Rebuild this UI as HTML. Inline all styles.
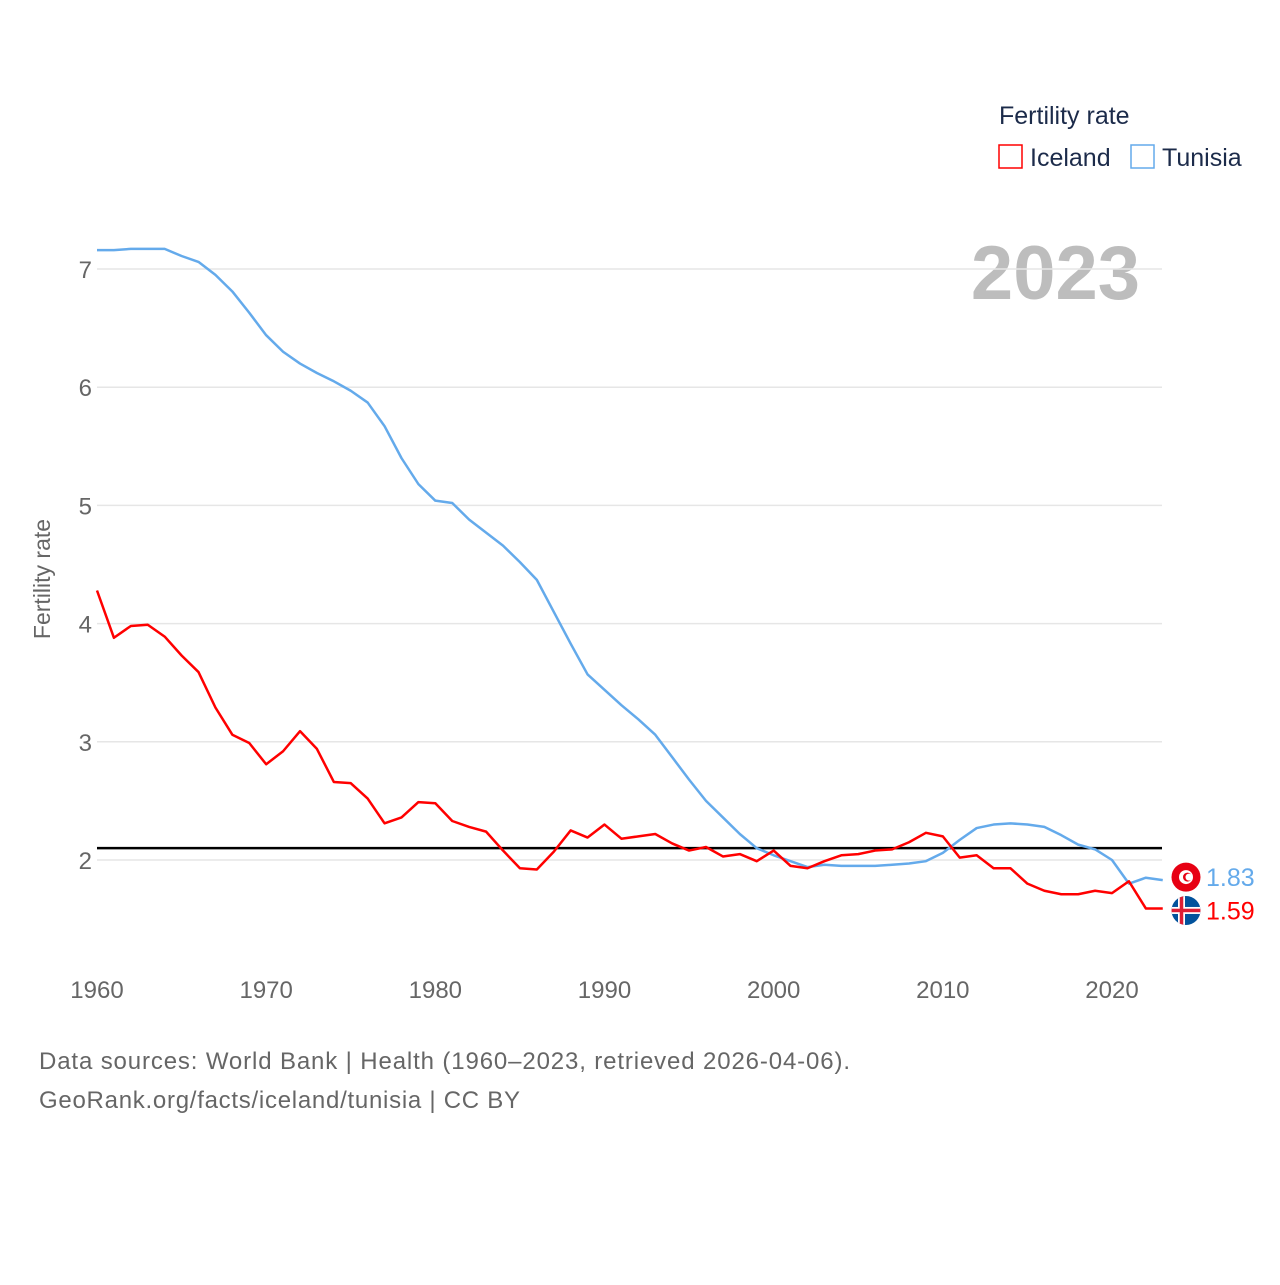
<!DOCTYPE html>
<html><head><meta charset="utf-8"><style>
body{margin:0;background:#fff;font-family:"Liberation Sans",sans-serif}
svg text{font-family:"Liberation Sans",sans-serif}
</style></head><body>
<svg id="chart" width="1280" height="1280" xmlns="http://www.w3.org/2000/svg">
<text x="999" y="124" font-size="25" fill="#1c2b4a">Fertility rate</text>
<g><rect x="999" y="145" width="23" height="23" fill="none" stroke="#ff0000" stroke-width="1.5"/><text x="1030" y="166" font-size="25" fill="#1c2b4a">Iceland</text></g>
<g><rect x="1131" y="145" width="23" height="23" fill="none" stroke="#64aaeb" stroke-width="1.5"/><text x="1162" y="166" font-size="25" fill="#1c2b4a">Tunisia</text></g>
<text x="1140" y="299" font-size="76" font-weight="bold" fill="#bdbdbd" text-anchor="end">2023</text>
<text transform="translate(50,579) rotate(-90)" font-size="23" fill="#666" text-anchor="middle">Fertility rate</text>
<text x="39" y="1069" font-size="24" fill="#666" textLength="811" lengthAdjust="spacing">Data sources: World Bank | Health (1960–2023, retrieved 2026-04-06).</text>
<text x="39" y="1108" font-size="24" fill="#666" textLength="481" lengthAdjust="spacing">GeoRank.org/facts/iceland/tunisia | CC BY</text>
<g id="grid"></g><g id="marks"></g>
</svg>
<script>
const years=[];for(let y=1960;y<=2023;y++)years.push(y);
const iceland=[4.28,3.88,3.98,3.99,3.89,3.73,3.59,3.29,3.06,2.99,2.81,2.92,3.09,2.94,2.66,2.65,2.52,2.31,2.36,2.49,2.48,2.33,2.28,2.24,2.08,1.93,1.92,2.07,2.25,2.19,2.30,2.18,2.20,2.22,2.14,2.08,2.11,2.03,2.05,1.99,2.08,1.95,1.93,1.99,2.04,2.05,2.08,2.09,2.15,2.23,2.20,2.02,2.04,1.93,1.93,1.80,1.74,1.71,1.71,1.74,1.72,1.82,1.59,1.59];
const tunisia=[7.16,7.16,7.17,7.17,7.17,7.11,7.06,6.95,6.81,6.63,6.44,6.30,6.20,6.12,6.05,5.97,5.87,5.67,5.40,5.18,5.04,5.02,4.88,4.77,4.66,4.52,4.37,4.10,3.83,3.57,3.44,3.31,3.19,3.06,2.87,2.68,2.50,2.36,2.22,2.10,2.04,1.99,1.94,1.96,1.95,1.95,1.95,1.96,1.97,1.99,2.06,2.17,2.27,2.30,2.31,2.30,2.28,2.21,2.13,2.09,2.00,1.80,1.85,1.83];
const yTicks=[2,3,4,5,6,7];
const xTicks=[1960,1970,1980,1990,2000,2010,2020];
const replacement=2.1;
const X=y=>97+(y-1960)*(1015/60);
const Y=v=>860-(v-2)*118.2;
const NS="http://www.w3.org/2000/svg";
const grid=document.getElementById('grid'),marks=document.getElementById('marks');
function mk(tag,attrs,parent,txt){const e=document.createElementNS(NS,tag);for(const k in attrs)e.setAttribute(k,attrs[k]);if(txt!==undefined)e.textContent=txt;parent.appendChild(e);return e;}
yTicks.forEach(t=>{
 const l=mk('line',{x1:97,x2:1162,y1:Y(t),y2:Y(t),stroke:'#e6e6e6','stroke-width':1.5},grid);
 
 
 const tx=mk('text',{x:92,y:Y(t)+9,'font-size':24,fill:'#666','text-anchor':'end'},grid,String(t));
 
 
});
xTicks.forEach(t=>{
 const tx=mk('text',{x:X(t),y:998,'font-size':24,fill:'#666','text-anchor':'middle'},grid,String(t));
 
 
});
const ref=mk('line',{x1:97,x2:1162,y1:Y(replacement),y2:Y(replacement),stroke:'#000','stroke-width':2.5},marks);


function series(vals,color,name){
 const p=mk('polyline',{points:vals.map((v,i)=>X(years[i])+','+Y(v)).join(' '),fill:'none',stroke:color,'stroke-width':2.5,'stroke-linejoin':'round'},marks);
 
 
}
series(tunisia,'#64aaeb','tunisia-line');
series(iceland,'#ff0000','iceland-line');
const lastT=tunisia[tunisia.length-1],lastI=iceland[iceland.length-1];
const ty=Y(lastT)-3,iy=Y(lastI)+2;
const fT=mk('g',{},marks);


mk('circle',{cx:1186,cy:ty,r:14.5,fill:'#e70013'},fT);
mk('circle',{cx:1186,cy:ty,r:7,fill:'#fff'},fT);
mk('circle',{cx:1187.5,cy:ty,r:4.5,fill:'#e70013'},fT);
mk('circle',{cx:1189,cy:ty,r:3.5,fill:'#fff'},fT);
const fI=mk('g',{},marks);


const cp=mk('clipPath',{id:'ic'},fI);mk('circle',{cx:1186,cy:iy,r:14.5},cp);
const gi=mk('g',{'clip-path':'url(#ic)'},fI);
mk('rect',{x:1171,y:iy-15,width:30,height:30,fill:'#02529c'},gi);
mk('rect',{x:1171,y:iy-3.5,width:30,height:7,fill:'#fff'},gi);
mk('rect',{x:1178,y:iy-15,width:7,height:30,fill:'#fff'},gi);
mk('rect',{x:1171,y:iy-1.75,width:30,height:3.5,fill:'#dc1e35'},gi);
mk('rect',{x:1179.75,y:iy-15,width:3.5,height:30,fill:'#dc1e35'},gi);
const lt=mk('text',{x:1206,y:ty+9,'font-size':25,fill:'#64aaeb'},marks,lastT.toFixed(2));


const li=mk('text',{x:1206,y:iy+9,'font-size':25,fill:'#ff0000'},marks,lastI.toFixed(2));


</script>
</body></html>
